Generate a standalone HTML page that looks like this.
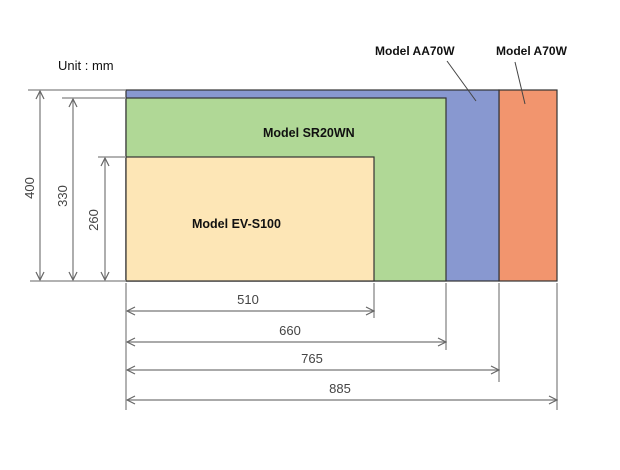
<!DOCTYPE html>
<html><head><style>body{margin:0;background:#fff}</style></head><body>
<svg width="620" height="465" xmlns="http://www.w3.org/2000/svg" font-family="Liberation Sans, sans-serif">
<defs>
<marker id="a" markerWidth="10" markerHeight="10" refX="9" refY="5" orient="auto-start-reverse" markerUnits="userSpaceOnUse"><path d="M1,1 L9,5 L1,9" fill="none" stroke="#666" stroke-width="1.2"/></marker>
</defs>
<rect x="499" y="90" width="58" height="191" fill="#f2956e" stroke="#333" stroke-width="1.2"/>
<rect x="126" y="90" width="373" height="191" fill="#8898d0" stroke="#333" stroke-width="1.2"/>
<rect x="126" y="98" width="320" height="183" fill="#b0d896" stroke="#333" stroke-width="1.2"/>
<rect x="126" y="157" width="248" height="124" fill="#fde6b6" stroke="#333" stroke-width="1.2"/>
<g stroke="#999" stroke-width="1.5" fill="none">
<line x1="28" y1="90" x2="126" y2="90"/><line x1="62" y1="98" x2="126" y2="98"/><line x1="98" y1="157" x2="126" y2="157"/>
<line x1="30" y1="281" x2="126" y2="281"/>
<line x1="126" y1="283" x2="126" y2="410"/><line x1="374" y1="283" x2="374" y2="318"/><line x1="446" y1="283" x2="446" y2="350"/><line x1="499" y1="283" x2="499" y2="382"/><line x1="557" y1="283" x2="557" y2="410"/>
</g>
<g stroke="#777" stroke-width="1.2" marker-start="url(#a)" marker-end="url(#a)">
<line x1="40" y1="91" x2="40" y2="280"/><line x1="73" y1="99" x2="73" y2="280"/><line x1="105" y1="158" x2="105" y2="280"/>
<line x1="127" y1="311" x2="374" y2="311"/><line x1="127" y1="342" x2="446" y2="342"/><line x1="127" y1="370" x2="499" y2="370"/><line x1="127" y1="400" x2="557" y2="400"/>
</g>
<g stroke="#444" stroke-width="1"><line x1="447" y1="61" x2="476" y2="101"/><line x1="515" y1="62" x2="525" y2="104"/></g>
<g fill="#111">
<text x="58" y="70" font-size="13">Unit : mm</text>
<text x="375" y="55" font-size="12" font-weight="bold">Model AA70W</text>
<text x="496" y="55" font-size="12" font-weight="bold">Model A70W</text>
<text x="263" y="137" font-size="12.5" font-weight="bold">Model SR20WN</text>
<text x="192" y="228" font-size="12.5" font-weight="bold">Model EV-S100</text>
</g>
<g font-size="13" fill="#444" text-anchor="middle">
<text x="248" y="304">510</text><text x="290" y="335">660</text><text x="312" y="363">765</text><text x="340" y="393">885</text>
<text transform="translate(34,188) rotate(-90)">400</text>
<text transform="translate(67,196) rotate(-90)">330</text>
<text transform="translate(98,220) rotate(-90)">260</text>
</g>
</svg>
</body></html>
